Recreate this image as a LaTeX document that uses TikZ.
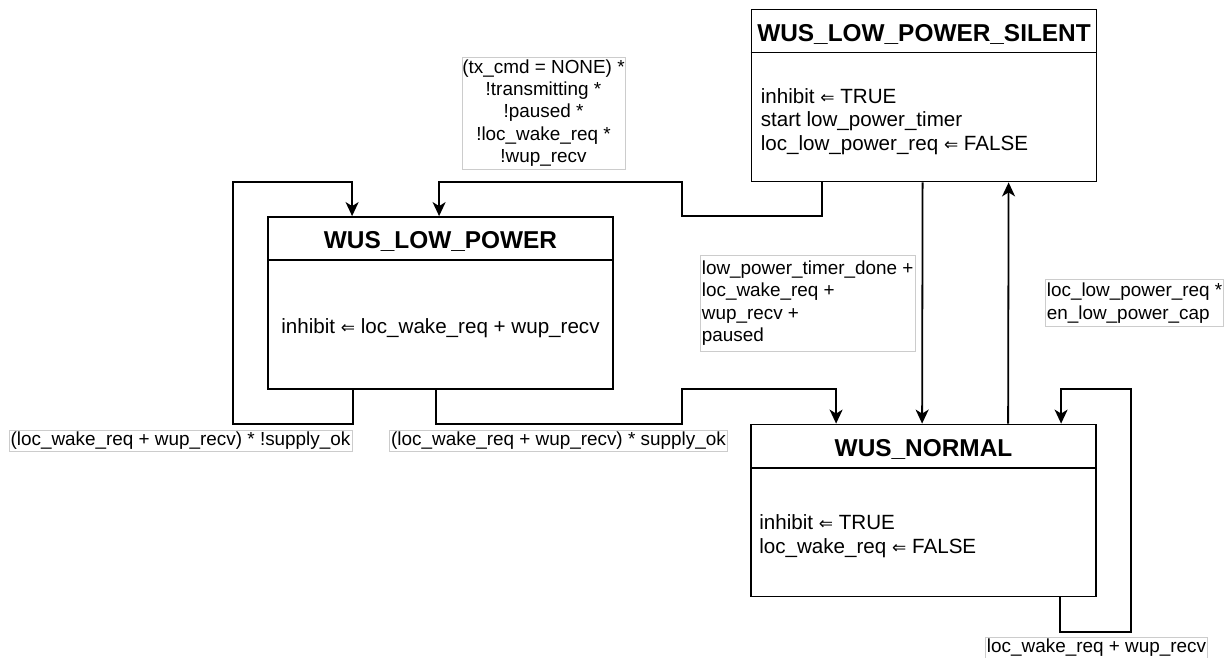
\documentclass[tikz,border=0pt]{standalone}
\usepackage{fontspec}
\setmainfont{Liberation Sans}
\newfontfamily\symfont{DejaVu Sans}
\usetikzlibrary{arrows.meta,calc}
\newcommand\getsarrow{{\symfont\fontsize{17}{18}\selectfont ⇐}}

\tikzset{
  statebox/.style={draw, line width=1.8pt, fill=white, minimum width=345pt, minimum height=172pt, inner sep=0pt},
  headtext/.style={font=\bfseries\fontsize{24.4}{28}\selectfont, inner sep=0pt},
  bodytext/.style={font=\fontsize{20.6}{23.8}\selectfont, inner sep=0pt},
  divider/.style={line width=1.8pt},
  conn/.style={line width=1.8pt, -{Stealth[length=14pt,width=13pt,inset=4pt]}},
  lbl/.style={draw=black!20, line width=0.7pt, fill=white, font=\fontsize{18.9}{22.3}\selectfont, inner xsep=1.5pt, inner ysep=1.5pt},
}

\begin{document}
\begin{tikzpicture}[x=1pt, y=-1pt]
  \useasboundingbox (0,0) rectangle (1231,658);
  \fill[white] (0,0) rectangle (1231,658);

  % states
  \node[statebox] (silent) at (924,95.5) {};
  \node[statebox] (lp) at (440.5,303) {};
  \node[statebox] (normal) at (923.5,510.5) {};

  \foreach \s in {silent, lp, normal}
    \draw[divider] ([yshift=-44pt]\s.north west) -- ([yshift=-44pt]\s.north east);

  \node[headtext] (silentHead) at ($(silent.north)+(0,25.5)$) {WUS\_LOW\_POWER\_SILENT};
  \node[headtext] (lpHead) at ($(lp.north)+(0,25.5)$) {WUS\_LOW\_POWER};
  \node[headtext] (normalHead) at ($(normal.north)+(0,25.5)$) {WUS\_NORMAL};

  \node[bodytext, anchor=west, align=left] (silentBody) at ($(silent.west)+(10,26)$)
    {inhibit \getsarrow{} TRUE\\start low\_power\_timer\\loc\_low\_power\_req \getsarrow{} FALSE};
  \node[bodytext, align=center] (lpBody) at ($(lp.center)+(0,25)$)
    {inhibit \getsarrow{} loc\_wake\_req + wup\_recv};
  \node[bodytext, anchor=west, align=left] (normalBody) at ($(normal.west)+(9,26)$)
    {inhibit \getsarrow{} TRUE\\loc\_wake\_req \getsarrow{} FALSE};

  % transitions
  \draw[conn] ($(silent.south west)+(71,0)$) -- ++(0,33.5) -| (682,182)
              -| ($(lp.north west)+(172,0)$);
  \draw[conn] ($(lp.south west)+(86,0)$) -- ++(0,34) -| (233,182)
              -| ($(lp.north west)+(85,0)$);
  \draw[conn] ($(lp.south west)+(169,0)$) -- ++(0,34) -| (682,389)
              -| ($(normal.north west)+(86,0)$);
  \draw[conn] ($(silent.south west)+(172,0)$) -- ($(normal.north west)+(172,0)$);
  \draw[conn] ($(normal.north west)+(258,0)$) -- ($(silent.south west)+(258,0)$);
  \draw[conn] ($(normal.south west)+(310,0)$) -- ++(0,34.5) -| (1131,389)
              -| ($(normal.north west)+(311,0)$);

  % guard labels
  \node[lbl, align=center, minimum width=163pt, minimum height=112pt, inner sep=0pt] (gToLp) at (543.5,113)
    {(tx\_cmd = NONE) *\\!transmitting *\\!paused *\\!loc\_wake\_req *\\!wup\_recv};
  \node[lbl, align=left, anchor=west, minimum height=96pt] (gToNormal) at (700,303)
    {low\_power\_timer\_done +\\loc\_wake\_req +\\wup\_recv +\\paused};
  \node[lbl, align=left, anchor=west, minimum height=47pt] (gToSilent) at (1045,303)
    {loc\_low\_power\_req *\\en\_low\_power\_cap};
  \node[lbl] (gLpLoop) at (180.5,441) {(loc\_wake\_req + wup\_recv) * !supply\_ok};
  \node[lbl] (gLpNormal) at (558.5,441) {(loc\_wake\_req + wup\_recv) * supply\_ok};
  \node[lbl] (gNormalLoop) at (1096.5,648) {loc\_wake\_req + wup\_recv};
\end{tikzpicture}
\end{document}
